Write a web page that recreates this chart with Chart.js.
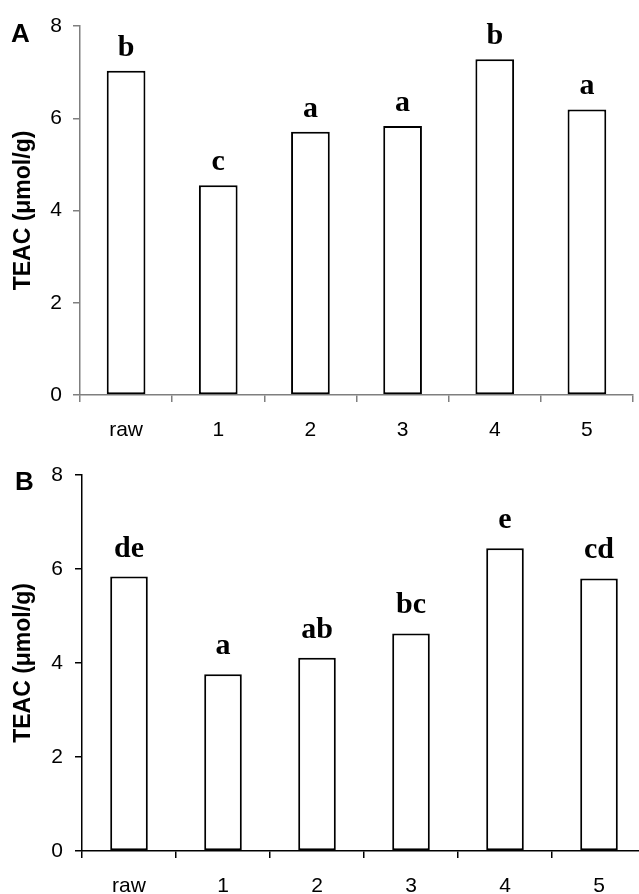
<!DOCTYPE html>
<html>
<head>
<meta charset="utf-8">
<script src="https://cdn.jsdelivr.net/npm/chart.js@4.4.1/dist/chart.umd.min.js"></script>
<style>
  html, body { margin: 0; padding: 0; background: #fff; overflow: hidden; width: 639px; height: 894px; }
  .panel { position: absolute; left: 0; }
  #boxA { top: 0; width: 639px; height: 447px; }
  #boxB { top: 447px; width: 660px; height: 447px; }
  .tag { position: absolute; font: bold 26px "Liberation Sans", Arial, sans-serif; color: #000; }
</style>
</head>
<body>
<div class="panel" id="boxA"><canvas id="chartA"></canvas></div>
<div class="panel" id="boxB"><canvas id="chartB"></canvas></div>
<div class="tag" style="left:11px; top:18px;">A</div>
<div class="tag" style="left:15px; top:466px;">B</div>

<script>
// TEAC values
const categories = ['raw', '1', '2', '3', '4', '5'];
const teacA = [7.03, 4.55, 5.71, 5.83, 7.28, 6.19];
const teacB = [5.84, 3.76, 4.11, 4.63, 6.44, 5.80];
const lettersA = ['b', 'c', 'a', 'a', 'b', 'a'];
const lettersB = ['de', 'a', 'ab', 'bc', 'e', 'cd'];
const yTicks = [0, 2, 4, 6, 8];

// letters above each bar (statistical groups)
const letterPlugin = {
  id: 'letters',
  afterDatasetsDraw(chart, args, opts) {
    const ctx = chart.ctx;
    const meta = chart.getDatasetMeta(0);
    ctx.save();
    ctx.font = 'bold 30px "Liberation Serif", "Times New Roman", serif';
    ctx.fillStyle = '#000';
    ctx.textAlign = 'center';
    ctx.textBaseline = 'alphabetic';
    meta.data.forEach((bar, i) => {
      ctx.fillText(opts.text[i], bar.x, bar.y - opts.gap);
    });
    ctx.restore();
  }
};

function makeChart(id, values, letters, cfg) {
  return new Chart(document.getElementById(id), {
    type: 'bar',
    data: {
      labels: categories,
      datasets: [{
        data: values,
        backgroundColor: '#fff',
        borderColor: '#000',
        borderWidth: 2,
        borderSkipped: false,
        categoryPercentage: 1,
        barPercentage: cfg.barPct,
      }],
    },
    plugins: [letterPlugin],
    options: {
      responsive: true,
      maintainAspectRatio: false,
      animation: false,
      layout: { padding: { top: cfg.top, right: cfg.right, left: 0, bottom: 0 } },
      plugins: {
        legend: { display: false },
        tooltip: { enabled: false },
        letters: { text: letters, gap: cfg.gap },
      },
      scales: {
        x: {
          offset: true,
          afterFit: (s) => { s.height = cfg.xH; },
          grid: { offset: true, drawOnChartArea: false, drawTicks: true, tickLength: 7, color: cfg.axis, lineWidth: 1.5 },
          border: { color: cfg.axis, width: 1.5 },
          ticks: { color: '#000', padding: 16, font: { family: '"Liberation Sans", Arial, sans-serif', size: 21 } },
        },
        y: {
          min: 0, max: 8,
          afterBuildTicks: (s) => { s.ticks = yTicks.map(v => ({ value: v })); },
          afterFit: (s) => { s.width = cfg.yW; },
          grid: { drawOnChartArea: false, drawTicks: true, tickLength: 7, color: cfg.axis, lineWidth: 1.5 },
          border: { color: cfg.axis, width: 1.5 },
          ticks: { color: '#000', padding: cfg.tickPad, font: { family: '"Liberation Sans", Arial, sans-serif', size: 21 } },
          title: {
            display: true,
            text: 'TEAC (μmol/g)',
            color: '#000',
            padding: { top: 10, bottom: 0 },
            font: { family: '"Liberation Sans", Arial, sans-serif', size: 23, weight: 'bold' },
          },
        },
      },
    },
  });
}

makeChart('chartA', teacA, lettersA, { top: 26, right: 6, xH: 52, yW: 80, tickPad: 11, barPct: 0.42, gap: 15, axis: '#7f7f7f' });
makeChart('chartB', teacB, lettersB, { top: 28, right: 14, xH: 43, yW: 82, tickPad: 12, barPct: 0.40, gap: 20, axis: '#000' });
</script>
</body>
</html>
